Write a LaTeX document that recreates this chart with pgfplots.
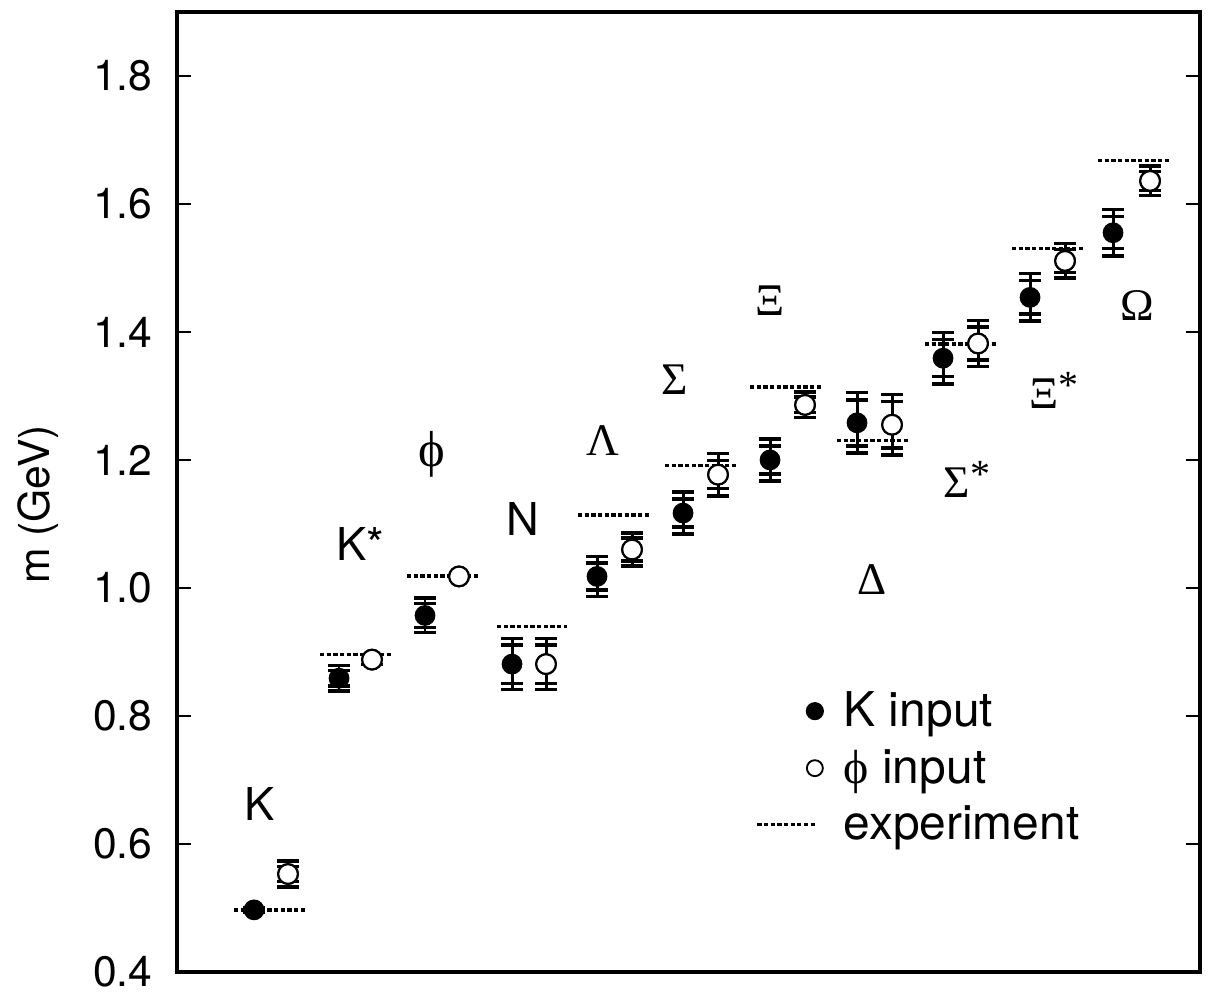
\documentclass[border=0pt]{standalone}
\usepackage{fontspec}
\setmainfont{TeX Gyre Heros}
\newfontfamily\grk{Liberation Serif}
\usepackage{pgfplots}
\pgfplotsset{compat=1.18}
\newcommand{\st}{\raisebox{0.22em}{\fontsize{15}{15}\selectfont *}}
\begin{document}
\begin{tikzpicture}
\begin{axis}[
  scale only axis,
  width=13.505cm, height=12.673cm,
  xmin=177, xmax=1200, ymin=0.4, ymax=1.9,
  xtick=\empty,
  ytick={0.4,0.6,0.8,1.0,1.2,1.4,1.6,1.8},
  ytick pos=both, yticklabel pos=left,
  tick align=inside,
  major tick length=0.18cm,
  every tick/.style={black, line width=0.8pt},
  axis line style={line width=1.4pt},
  yticklabel style={/pgf/number format/fixed, /pgf/number format/fixed zerofill,
    /pgf/number format/precision=1, /pgf/number format/assume math mode=true,
    xshift=-0.2cm, font=\fontsize{16}{19}\selectfont},
  every axis y label/.style={at={(axis description cs:-0.136,0.487)}, rotate=90, anchor=center,
    font=\fontsize{16}{19}\selectfont},
  ylabel={m (GeV)},
  clip=false,
  legend style={at={(axis cs:755,0.845)}, anchor=north west, draw=none, fill=none,
    font=\fontsize{18}{21}\selectfont, row sep=4pt, inner sep=0pt,
    nodes={inner sep=1.5pt}},
  legend cell align=left,
]
% experiment lines
\pgfplotsset{expline/.style={forget plot, black, line width=1.3pt, dash pattern=on 1.6pt off 0.9pt}}
\addplot[expline] coordinates {(234,0.497) (307,0.497)};
\addplot[expline] coordinates {(320,0.896) (393,0.896)};
\addplot[expline] coordinates {(407,1.019) (478,1.019)};
\addplot[expline] coordinates {(497,0.940) (567,0.940)};
\addplot[expline] coordinates {(578,1.114) (650,1.114)};
\addplot[expline] coordinates {(665,1.191) (737,1.191)};
\addplot[expline] coordinates {(750,1.314) (822,1.314)};
\addplot[expline] coordinates {(837,1.230) (908,1.230)};
\addplot[expline] coordinates {(925,1.381) (997,1.381)};
\addplot[expline] coordinates {(1012,1.530) (1083,1.530)};
\addplot[expline] coordinates {(1098,1.668) (1170,1.668)};

\pgfplotsset{ebar/.style={forget plot, only marks,
  error bars/y dir=both, error bars/y explicit,
  error bars/error bar style={black, solid, line width=1.1pt},
  error bars/error mark options={black, line width=1.3pt, mark size=4pt, rotate=90}}}

% K input: outer errors with marks
\addplot[ebar, mark=*, mark size=3.7pt, mark options={fill=black}] coordinates {
(254,0.497) +- (0,0.004)
(339,0.859) +- (0,0.020)
(425,0.957) +- (0,0.027)
(512,0.881) +- (0,0.040)
(597,1.018) +- (0,0.031)
(683,1.117) +- (0,0.033)
(770,1.200) +- (0,0.033)
(857,1.258) +- (0,0.047)
(943,1.359) +- (0,0.040)
(1030,1.454) +- (0,0.037)
(1113,1.555) +- (0,0.036)
};
% K input: inner errors
\addplot[ebar, mark=none] coordinates {
(339,0.859) +- (0,0.012)
(425,0.957) +- (0,0.019)
(512,0.881) +- (0,0.030)
(597,1.018) +- (0,0.021)
(683,1.117) +- (0,0.022)
(770,1.200) +- (0,0.022)
(857,1.258) +- (0,0.036)
(943,1.359) +- (0,0.029)
(1030,1.454) +- (0,0.026)
(1113,1.555) +- (0,0.025)
};
% phi input: outer errors with marks
\addplot[ebar, mark=*, mark size=3.7pt, mark options={fill=white, draw=black, line width=0.8pt}] coordinates {
(288,0.553) +- (0,0.020)
(372,0.888) +- (0,0.008)
(459,1.018) +- (0,0.000)
(546,0.881) +- (0,0.040)
(632,1.060) +- (0,0.026)
(718,1.177) +- (0,0.033)
(805,1.286) +- (0,0.020)
(892,1.255) +- (0,0.047)
(978,1.382) +- (0,0.036)
(1065,1.511) +- (0,0.027)
(1150,1.636) +- (0,0.023)
};
% phi input: inner errors
\addplot[ebar, mark=none] coordinates {
(288,0.553) +- (0,0.012)
(546,0.881) +- (0,0.030)
(632,1.060) +- (0,0.018)
(718,1.177) +- (0,0.022)
(805,1.286) +- (0,0.012)
(892,1.255) +- (0,0.036)
(978,1.382) +- (0,0.026)
(1065,1.511) +- (0,0.018)
(1150,1.636) +- (0,0.015)
};
% redraw open marks on top
\addplot[forget plot, only marks, mark=*, mark size=3.7pt, mark options={fill=white, draw=black, line width=0.8pt}] coordinates {
(288,0.553) (372,0.888) (459,1.018) (546,0.881) (632,1.060) (718,1.177)
(805,1.286) (892,1.255) (978,1.382) (1065,1.511) (1150,1.636)
};

% legend
\addlegendimage{legend image code/.code={\path (0,0) (1.08cm,0); \fill[black] (0.76cm,0) circle (3.2pt);}}
\addlegendentry{K input}
\addlegendimage{legend image code/.code={\path (0,0) (1.08cm,0); \draw[black, line width=0.7pt] (0.76cm,0) circle (3.0pt);}}
\addlegendentry{{\grk ϕ} input}
\addlegendimage{legend image code/.code={\path (0,0) (1.08cm,0); \draw[black, line width=1.3pt, dash pattern=on 1.6pt off 0.9pt] (0,0) -- (0.76cm,0);}}
\addlegendentry{experiment}

% particle labels
\begin{scope}[every node/.style={font=\fontsize{17}{20}\selectfont, inner sep=0pt}]
\node at (axis cs:260,0.663) {K};
\node at (axis cs:360,1.068) {K*};
\node at (axis cs:432,1.208) {\fontsize{19}{20}\selectfont\grk ϕ};
\node at (axis cs:523,1.107) {N};
\node at (axis cs:603,1.231) {\grk Λ};
\node at (axis cs:675,1.325) {\grk Σ};
\node at (axis cs:770,1.449) {\grk Ξ};
\node at (axis cs:872,1.013) {\grk Δ};
\node at (axis cs:967,1.169) {\grk Σ\st};
\node at (axis cs:1054,1.309) {\grk Ξ\st};
\node at (axis cs:1137,1.441) {\grk Ω};
\end{scope}
\end{axis}
\pgfresetboundingbox
\path[use as bounding box] ([xshift=-2.337cm,yshift=-0.277cm]current axis.south west) rectangle ([xshift=0.158cm,yshift=0.158cm]current axis.north east);
\end{tikzpicture}
\end{document}
